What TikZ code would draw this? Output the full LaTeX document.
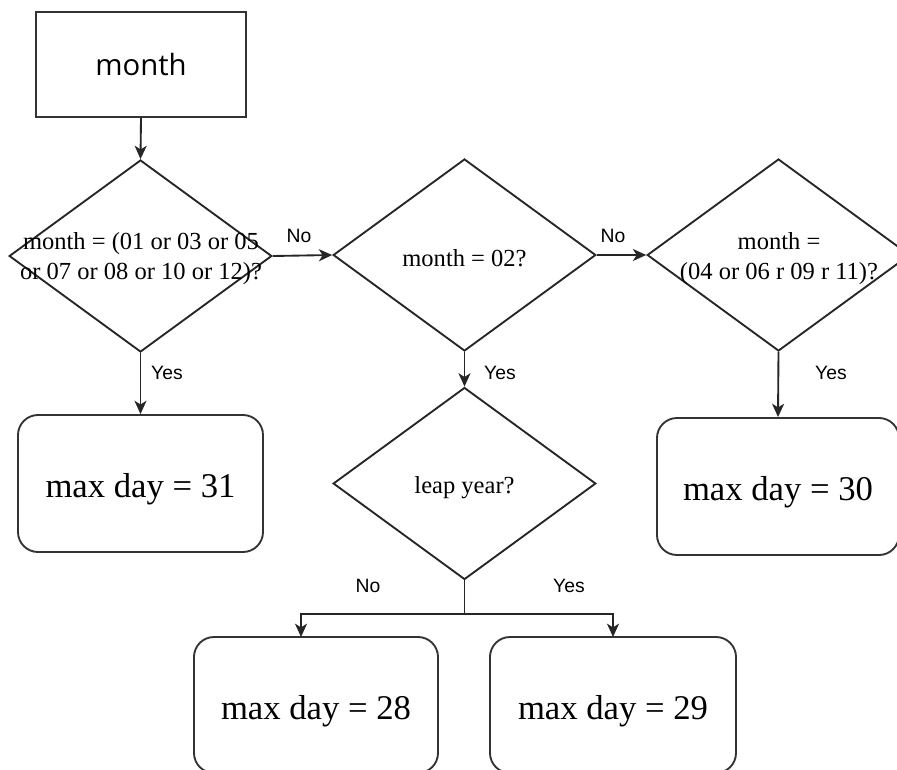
\documentclass[tikz,border=0pt]{standalone}
\usepackage{fontspec}
\setmainfont{Liberation Serif}
\newfontfamily\labelfont{Liberation Sans}
\newfontfamily\headfont{Open Sans}
\usetikzlibrary{shapes.geometric,arrows.meta}
\begin{document}
\begin{tikzpicture}[x=0.75pt,y=-0.75pt,
  line width=1.4pt,
  arr/.style={draw=black!85, -{Stealth[length=10pt,width=9pt,inset=2.8pt]}},
  plain/.style={draw=black!85},
  headbox/.style={draw=black!80, rectangle, minimum width=157.5pt, minimum height=78.75pt, inner sep=0pt,
    font=\headfont\fontsize{22}{26}\selectfont},
  decide/.style={draw=black!85, diamond, minimum width=197pt, minimum height=144pt, inner sep=0pt},
  dtext/.style={align=center, inner sep=0pt, font=\fontsize{18.4}{22.5}\selectfont},
  result/.style={draw=black!80, rectangle, rounded corners=15pt, inner sep=0pt},
  rtext/.style={inner sep=0pt, font=\fontsize{26}{30}\selectfont},
  lbl/.style={inner sep=0pt, font=\labelfont\fontsize{14.5}{17}\selectfont}]
\clip (0,0) rectangle (897,769);
\fill[white] (0,0) rectangle (897,769);

% start box
\node[headbox] (month) at (141,64.5) {month};

% decisions
\node[decide] (d1) at (140.5,256) {};
\node[dtext] (t1) at (141,259) {month = (01 or 03 or 05\\or 07 or 08 or 10 or 12)?};
\node[decide] (d2) at (464.5,255) {};
\node[dtext] (t2) at (464.5,258) {month = 02?};
\node[decide] (d3) at (778.5,255) {};
\node[dtext] (t3) at (779,259) {month =\\(04 or 06 r 09 r 11)?};
\node[decide] (d4) at (464.5,483.5) {};
\node[dtext] (t4) at (464.5,488) {leap year?};

% results
\node[result, minimum width=183.75pt, minimum height=102.75pt] (r31) at (140.5,483.5) {};
\node[rtext] (x31) at (140.5,489) {max day = 31};
\node[result, minimum width=181.5pt, minimum height=102.75pt] (r30) at (778,486.5) {};
\node[rtext] (x30) at (778,492) {max day = 30};
\node[result, minimum width=183pt, minimum height=102pt] (r28) at (316,705) {};
\node[rtext] (x28) at (316,711) {max day = 28};
\node[result, minimum width=184.5pt, minimum height=102pt] (r29) at (613,705) {};
\node[rtext] (x29) at (613,711) {max day = 29};

% connectors
\draw[arr] (month.south) -- (d1.north);
\draw[arr] (d1.east) -- (d2.west);
\draw[arr] (d2.east) -- (d3.west);
\draw[arr] (d1.south) -- (r31.north);
\draw[arr] (d2.south) -- (d4.north);
\draw[arr] (d3.south) -- (r30.north);
\coordinate (split) at (464.5,614);
\coordinate (in28) at (301,637);
\coordinate (in29) at (613,637);
\draw[plain] (d4.south) -- (split);
\draw[arr] (split) -| (in28);
\draw[arr] (split) -| (in29);

% edge labels
\node[lbl] (n1) at (299,236) {No};
\node[lbl] (n2) at (613,236) {No};
\node[lbl] (y1) at (167,373) {Yes};
\node[lbl] (y2) at (500,373) {Yes};
\node[lbl] (y3) at (831,373) {Yes};
\node[lbl] (n3) at (368,586) {No};
\node[lbl] (y4) at (569,586) {Yes};
\end{tikzpicture}
\end{document}
